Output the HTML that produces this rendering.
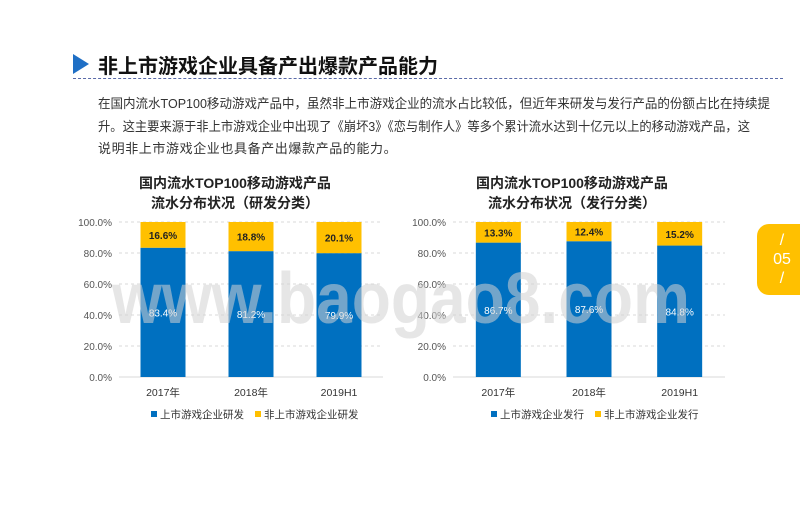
<!DOCTYPE html>
<html><head><meta charset="utf-8">
<style>
body{margin:0;width:800px;height:519px;background:#fff;position:relative;overflow:hidden;font-family:"Liberation Sans","Noto Sans CJK SC",sans-serif;}
.title{position:absolute;left:98px;top:50px;font-size:20px;font-weight:bold;color:#111;}
.tri{position:absolute;left:73px;top:54px;width:0;height:0;border-top:10px solid transparent;border-bottom:10px solid transparent;border-left:16px solid #1F6FC5;}
.dash{position:absolute;left:73px;top:78px;width:710px;border-top:1.5px dashed #5A6AA8;}
.tab{position:absolute;left:757px;top:224px;width:50px;height:71px;background:#FFC000;border-radius:12px 0 0 12px;color:#fff;font-size:16px;text-align:center;line-height:19px;padding-top:7px;box-sizing:border-box;}
svg{position:absolute;left:0;top:0;}
</style></head><body>
<div class="tri"></div>
<div class="title">非上市游戏企业具备产出爆款产品能力</div>
<div class="dash"></div>
<svg width="800" height="519" font-family="Liberation Sans, Noto Sans CJK SC, sans-serif" font-size="13" fill="#333">
<text x="98" y="108" textLength="672" lengthAdjust="spacingAndGlyphs">在国内流水TOP100移动游戏产品中，虽然非上市游戏企业的流水占比较低，但近年来研发与发行产品的份额占比在持续提</text>
<text x="98" y="131" textLength="652" lengthAdjust="spacingAndGlyphs">升。这主要来源于非上市游戏企业中出现了《崩坏3》《恋与制作人》等多个累计流水达到十亿元以上的移动游戏产品，这</text>
<text x="98" y="153" letter-spacing="0.6">说明非上市游戏企业也具备产出爆款产品的能力。</text>
</svg>
<div class="tab">/<br>05<br>/</div>
<svg id="chart" width="800" height="519"></svg>
<svg width="800" height="519" style="pointer-events:none">
<text x="112" y="323" font-size="72" font-weight="bold" fill="rgba(210,210,210,0.55)" textLength="578" lengthAdjust="spacingAndGlyphs" font-family="Liberation Sans, sans-serif">www.baogao8.com</text>
</svg>
<script>
const categories = ["2017年","2018年","2019H1"];
const devListed = [83.4, 81.2, 79.9];
const devUnlisted = [16.6, 18.8, 20.1];
const pubListed = [86.7, 87.6, 84.8];
const pubUnlisted = [13.3, 12.4, 15.2];
const ticks = [0,20,40,60,80,100];
const tickLabels = ["0.0%","20.0%","40.0%","60.0%","80.0%","100.0%"];

const NS="http://www.w3.org/2000/svg";
const svg=document.getElementById('chart');
function mk(tag,attrs,text){const e=document.createElementNS(NS,tag);for(const k in attrs)e.setAttribute(k,attrs[k]);if(text!==undefined)e.textContent=text;svg.appendChild(e);return e;}

function drawChart(cfg){
  const y0=377,y1=222;
  const yS=v=>y0-(v/100)*(y0-y1);
  const step=(cfg.x1-cfg.x0)/categories.length;
  const xC=i=>cfg.x0+step*(i+0.5);
  const bw=45;
  let t=mk('text',{x:cfg.tx,y:188,'text-anchor':'middle','font-size':14,'font-weight':'bold',fill:'#222'},cfg.t1);
  
  
  t=mk('text',{x:cfg.tx,y:208,'text-anchor':'middle','font-size':14,'font-weight':'bold',fill:'#222'},cfg.t2);
  
  
  ticks.forEach((v,i)=>{
    const y=yS(v);
    if(v>0){const g=mk('line',{x1:cfg.x0,x2:cfg.x1,y1:y,y2:y,stroke:'#d9d9d9','stroke-dasharray':'3,3'});
      
      }
    const l=mk('text',{x:cfg.x0-7,y:y+4,'text-anchor':'end','font-size':10,fill:'#555'},tickLabels[i]);
    
    
  });
  const ax=mk('line',{x1:cfg.x0,x2:cfg.x1,y1:y0,y2:y0,stroke:'#d9d9d9','stroke-width':1});
  
  
  categories.forEach((c,i)=>{
    const x=xC(i)-bw/2;
    const a=cfg.listed[i], b=cfg.unlisted[i];
    const r1=mk('rect',{x:x,y:yS(a),width:bw,height:y0-yS(a),fill:'#0070C0'});
    
    
    const r2=mk('rect',{x:x,y:yS(a+b),width:bw,height:yS(a)-yS(a+b),fill:'#FFC000'});
    
    
    const v1=mk('text',{x:xC(i),y:yS(a/2)+4,'text-anchor':'middle','font-size':10,fill:'#fff'},a.toFixed(1)+'%');
    
    
    const v2=mk('text',{x:xC(i),y:(yS(a)+yS(a+b))/2+4,'text-anchor':'middle','font-size':10,'font-weight':'bold',fill:'#222'},b.toFixed(1)+'%');
    
    
    const cl=mk('text',{x:xC(i),y:396,'text-anchor':'middle','font-size':10.5,fill:'#333'},c);
    
    
  });
  const lx=cfg.lx;
  let s=mk('rect',{x:lx,y:411,width:6,height:6,fill:'#0070C0'});
  
  
  s=mk('text',{x:lx+9,y:418,'font-size':10.5,fill:'#333'},cfg.l1);
  
  
  s=mk('rect',{x:lx+104,y:411,width:6,height:6,fill:'#FFC000'});
  
  
  s=mk('text',{x:lx+113,y:418,'font-size':10.5,fill:'#333'},cfg.l2);
  
  
}
drawChart({id:'dev-chart',x0:119,x1:383,tx:235,t1:'国内流水TOP100移动游戏产品',t2:'流水分布状况（研发分类）',listed:devListed,unlisted:devUnlisted,lx:151,l1:'上市游戏企业研发',l2:'非上市游戏企业研发'});
drawChart({id:'pub-chart',x0:453,x1:725,tx:572,t1:'国内流水TOP100移动游戏产品',t2:'流水分布状况（发行分类）',listed:pubListed,unlisted:pubUnlisted,lx:491,l1:'上市游戏企业发行',l2:'非上市游戏企业发行'});
</script>
</body></html>
